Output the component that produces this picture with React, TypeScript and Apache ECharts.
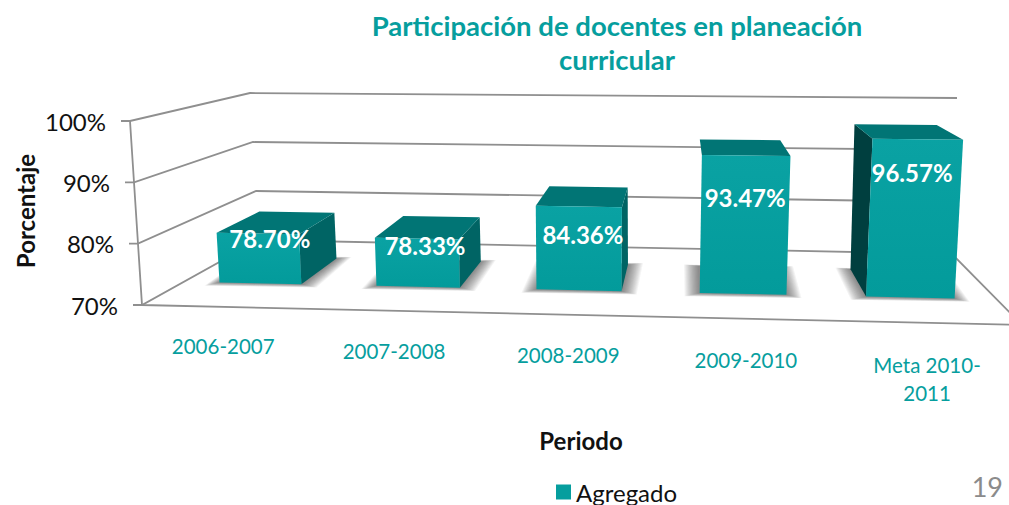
import React, { useEffect, useRef } from "react";
import * as echarts from "echarts";

const titleText = "Participación de docentes en planeación\ncurricular";
const categories = ["2006-2007", "2007-2008", "2008-2009", "2009-2010", "Meta 2010-\n2011"];
const seriesName = "Agregado";
const values = [78.7, 78.33, 84.36, 93.47, 96.57];
const valueLabels = ["78.70%", "78.33%", "84.36%", "93.47%", "96.57%"];
const labelLevels = [76.75, 76.2, 78.55, 85.5, 90.2];
const ticks = [70, 80, 90, 100];
const tickLabels = ["70%", "80%", "90%", "100%"];
const xAxisName = "Periodo";
const yAxisName = "Porcentaje";
const pageNumber = "19";

const FONT = "Lato";
const TEAL = "#069e9e";
const GRID = "#8f8f8f";

// Perspective frame of the 3D box (page pixels).
const FBL = [142, 305], FBR = [1022, 325], FTL = [130, 121], FTR = [1036, 132];
const BBL = [259, 240], BBR = [952, 254], BTL = [250, 93], BTR = [957, 98];
const PERSP = 1.05;
const D_FRONT = 0.36, D_BACK = 0.75, BAR_FRACTION = 0.262, BAR_SHIFT = -0.002, LABEL_DEPTH = 0.46;
const SHADOW_LAYERS = 14, SHADOW_SPREAD = 15;

const lerp = (a: number[], b: number[], t: number) => [a[0] + (b[0] - a[0]) * t, a[1] + (b[1] - a[1]) * t];
function project(u: number, d: number, h: number) {
  const f = u / (PERSP + (1 - PERSP) * u);
  const bot = lerp(lerp(FBL, FBR, f), lerp(BBL, BBR, f), d);
  const top = lerp(lerp(FTL, FTR, f), lerp(BTL, BTR, f), d);
  return lerp(bot, top, h);
}
const norm = (cs: any, pt: number[]) => ({
  u: (pt[0] - cs.x) / cs.width,
  h: (cs.y + cs.height - pt[1]) / cs.height,
});

const renderWall = (params: any, api: any) => {
  const cs = params.coordSys;
  const { h } = norm(cs, api.coord([0, api.value(1)]));
  const a = project(0, 0, h), b = project(0, 1, h), c = project(1, 1, h);
  const line = { stroke: GRID, lineWidth: 1.8, fill: "none" };
  const children: any[] = [
    { type: "polyline", shape: { points: [[a[0] - 9, a[1]], a, b, c] }, style: line },
    {
      type: "text",
      style: {
        text: tickLabels[params.dataIndex], x: a[0] - 24, y: a[1], textAlign: "right", textVerticalAlign: "middle",
        fontFamily: FONT, fontSize: 24, fill: "#111",
      },
    },
  ];
  if (params.dataIndex === 0) {
    const fr = project(1, 0, 0), ftl = project(0, 0, 1);
    children.push({ type: "polyline", shape: { points: [ftl, a, fr, c] }, style: line });
  }
  return { type: "group", children };
};

const renderBar = (params: any, api: any) => {
  const cs = params.coordSys;
  const i = params.dataIndex;
  const { u, h } = norm(cs, api.coord([api.value(0), api.value(1)]));
  const half = (api.size([1, 0])[0] / cs.width) * BAR_FRACTION;
  const uL = u - half + BAR_SHIFT, uR = u + half + BAR_SHIFT;
  const P = (x: number, d: number, z: number) => project(x, d, z);

  const fTL = P(uL, D_FRONT, h), fTR = P(uR, D_FRONT, h), fBL = P(uL, D_FRONT, 0), fBR = P(uR, D_FRONT, 0);
  const bTL = P(uL, D_BACK, h), bTR = P(uR, D_BACK, h), bBL = P(uL, D_BACK, 0), bBR = P(uR, D_BACK, 0);
  const children: any[] = [];
  for (let k = SHADOW_LAYERS; k >= 1; k--) {
    const e = (SHADOW_SPREAD * k) / SHADOW_LAYERS;
    children.push({
      type: "polygon",
      shape: {
        points: [
          [fBL[0] - e, fBL[1] + e * 0.22],
          [fBR[0] + e, fBR[1] + e * 0.22],
          [bBR[0] + e, bBR[1] - e * 0.1],
          [bBL[0] - e, bBL[1] - e * 0.1],
        ],
      },
      style: { fill: "rgba(60,60,60,0.055)" },
    });
  }
  if (bBR[0] > fBR[0] + 1) {
    children.push({ type: "polygon", shape: { points: [fTR, bTR, bBR, fBR] }, style: { fill: "#006464" } });
  }
  if (bBL[0] < fBL[0] - 1) {
    children.push({ type: "polygon", shape: { points: [fTL, bTL, bBL, fBL] }, style: { fill: "#003f3f" } });
  }
  children.push({ type: "polygon", shape: { points: [fTL, bTL, bTR, fTR] }, style: { fill: "#017575" } });
  children.push({
    type: "polygon",
    shape: { points: [fTL, fTR, fBR, fBL] },
    style: {
      fill: new echarts.graphic.LinearGradient(0, 0, 0, 1, [
        { offset: 0, color: "#0aa2a3" },
        { offset: 1, color: "#039b9b" },
      ]),
    },
  });
  const lv = norm(cs, api.coord([api.value(0), labelLevels[i]]));
  const lp = project(u, LABEL_DEPTH, lv.h);
  children.push({
    type: "text",
    style: {
      text: valueLabels[i], x: lp[0], y: lp[1], textAlign: "center", textVerticalAlign: "middle",
      fontFamily: FONT, fontWeight: "bold", fontSize: 24, fill: "#fff",
    },
  });
  return { type: "group", children };
};

const renderCategory = (params: any, api: any) => {
  const cs = params.coordSys;
  const { u } = norm(cs, api.coord([api.value(0), ticks[0]]));
  const p = project(u, 0, 0);
  return {
    type: "text",
    style: {
      text: categories[params.dataIndex], x: p[0] - 3, y: p[1] + 25 + u * 3, textAlign: "center", textVerticalAlign: "top",
      fontFamily: FONT, fontSize: 20.5, lineHeight: 28, fill: TEAL,
    },
  };
};

export default function App() {
  const ref = useRef<HTMLDivElement>(null);
  useEffect(() => {
    document.body.style.margin = "0";
    document.body.style.overflow = "hidden";
    const chart = echarts.init(ref.current!, undefined, { renderer: "svg" });
    chart.setOption({
      animation: false,
      backgroundColor: "#fff",
      title: {
        text: titleText, left: 612, top: 3, textAlign: "center",
        textStyle: { color: TEAL, fontFamily: FONT, fontSize: 27.5, fontWeight: "bold", lineHeight: 34 },
      },
      legend: {
        data: [{ name: seriesName, icon: "rect", itemStyle: { color: TEAL } }],
        left: 556, top: 480, padding: 0, itemWidth: 15, itemHeight: 15, itemGap: 7,
        textStyle: { fontFamily: FONT, fontSize: 24, lineHeight: 20, color: "#111" },
      },
      grid: { left: 142, top: 121, width: 880, height: 184 },
      xAxis: { type: "category", data: categories, show: false },
      yAxis: { type: "value", min: 70, max: 100, interval: 10, show: false },
      series: [
        {
          type: "custom", name: "grid", clip: false, silent: true, z: 1,
          renderItem: renderWall, encode: { x: 0, y: 1 },
          data: ticks.map((t) => [0, t]),
        },
        {
          type: "custom", name: seriesName, clip: false, z: 2, color: TEAL,
          renderItem: renderBar, encode: { x: 0, y: 1 },
          data: values.map((v, i) => [i, v]),
        },
        {
          type: "custom", name: "categories", clip: false, silent: true, z: 3,
          renderItem: renderCategory, encode: { x: 0, y: 1 },
          data: categories.map((_, i) => [i, ticks[0]]),
        },
      ],
      graphic: [
        {
          type: "text", x: 25, y: 211, rotation: Math.PI / 2,
          style: {
            text: yAxisName, textAlign: "center", textVerticalAlign: "middle",
            fontFamily: FONT, fontSize: 24, fontWeight: "bold", fill: "#111",
          },
        },
        {
          type: "text", x: 581, y: 440,
          style: {
            text: xAxisName, textAlign: "center", textVerticalAlign: "middle",
            fontFamily: FONT, fontSize: 24, fontWeight: "bold", fill: "#111",
          },
        },
        {
          type: "text", x: 1003, y: 486,
          style: {
            text: pageNumber, textAlign: "right", textVerticalAlign: "middle",
            fontFamily: FONT, fontSize: 27, fill: "#8b8b8b",
          },
        },
      ],
    });
    return () => chart.dispose();
  }, []);
  return <div ref={ref} style={{ width: 1009, height: 505 }} />;
}
